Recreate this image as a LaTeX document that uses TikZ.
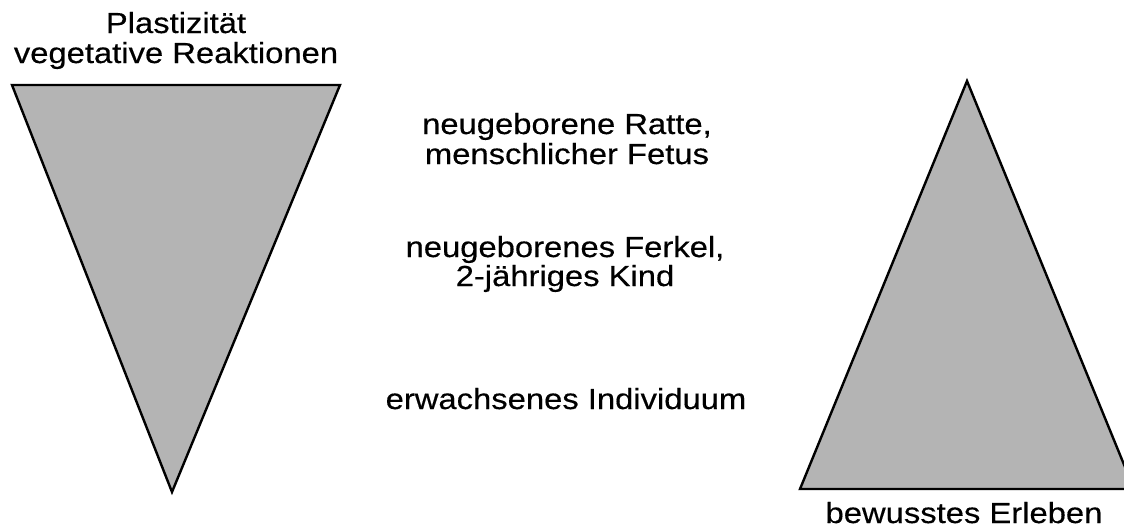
\documentclass[tikz,border=0pt]{standalone}
\usepackage{fontspec}
\newfontfamily\lab{Liberation Sans}[FakeStretch=1.13,FakeBold=0.4]
\begin{document}
\begin{tikzpicture}[x=1pt,y=-1pt,
  tri/.style={draw=black,line width=2.4pt,fill=triGray,line join=miter},
  lbl/.style={font=\lab\fontsize{29}{30}\selectfont,anchor=base,inner sep=0pt}]
\definecolor{triGray}{RGB}{180,180,180}
\useasboundingbox (0,0) rectangle (1124,531);
\clip (0,0) rectangle (1124,531);
% left triangle
\coordinate (la) at (12,85);
\coordinate (lb) at (340,85);
\coordinate (lc) at (172,492);
\draw[tri] (la) -- (lb) -- (lc) -- cycle;
% right triangle
\coordinate (ra) at (967,81);
\coordinate (rb) at (1134,489);
\coordinate (rc) at (800,489);
\draw[tri] (ra) -- (rb) -- (rc) -- cycle;
% labels
\node[lbl] (t1) at (176,33) {Plastizität};
\node[lbl] (t2) at (176,63) {vegetative Reaktionen};
\node[lbl] (m1) at (567,134) {neugeborene Ratte,};
\node[lbl] (m2) at (567,164) {menschlicher Fetus};
\node[lbl] (m3) at (565,257) {neugeborenes Ferkel,};
\node[lbl] (m4) at (565,286) {2-jähriges Kind};
\node[lbl] (m5) at (566,409) {erwachsenes Individuum};
\node[lbl] (b1) at (964,523) {bewusstes Erleben};
\end{tikzpicture}
\end{document}
